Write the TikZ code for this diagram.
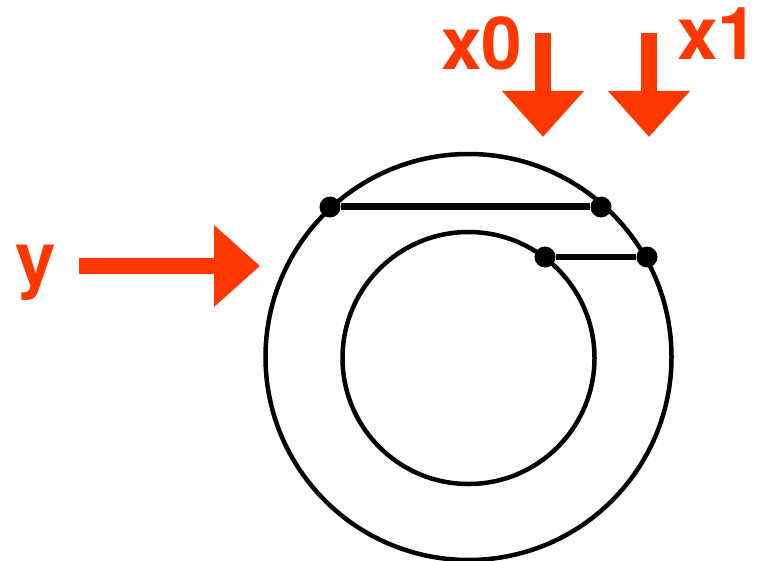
\documentclass[tikz,border=0pt]{standalone}
\usepackage{fontspec}
\setmainfont{TeX Gyre Heros}
\usetikzlibrary{arrows.meta}
\definecolor{laranja}{RGB}{255,56,0}
\begin{document}
\begin{tikzpicture}[x=1pt, y=-1pt, %Escala em pontos, y para baixo
	ponto/.style={circle, fill=black, inner sep=0pt, minimum size=21pt},
	grossa/.style={draw=laranja, line width=15.5pt, -{Triangle[length=46pt, width=79pt]}},
	rotulo/.style={text=laranja, font=\fontsize{73}{73}\selectfont\bfseries, inner sep=0pt, anchor=base west}]
	\useasboundingbox (0,0) rectangle (759,561); %Margens
		%Circulos
	\draw[line width=4.5pt] (468.5,357) circle[radius=203pt]; %Externo
	\draw[line width=4.5pt] (468.5,358) circle[radius=126pt]; %Interno
		%Pontos e segmentos
	\node[ponto] (a) at (330,207) {};
	\node[ponto] (b) at (601,207) {};
	\node[ponto] (c) at (545,257) {};
	\node[ponto] (d) at (647,257) {};
	\draw[line width=7pt] (a) -- (b);
	\draw[line width=5.5pt] (c) -- (d);
		%Setas
	\coordinate (x0topo) at (543,33);
	\coordinate (x0ponta) at (543,137);
	\coordinate (x1topo) at (649,33);
	\coordinate (x1ponta) at (649,137);
	\coordinate (yinicio) at (79,266);
	\coordinate (yponta) at (260,266);
	\draw[grossa] (x0topo) -- (x0ponta);
	\draw[grossa] (x1topo) -- (x1ponta);
	\draw[grossa] (yinicio) -- (yponta);
		%Rotulos
	\node[rotulo] (lx0) at (441,70) {x0};
	\node[rotulo] (lx1) at (677,60) {x1};
	\node[rotulo] (ly) at (15,284) {y};
\end{tikzpicture}
\end{document}
